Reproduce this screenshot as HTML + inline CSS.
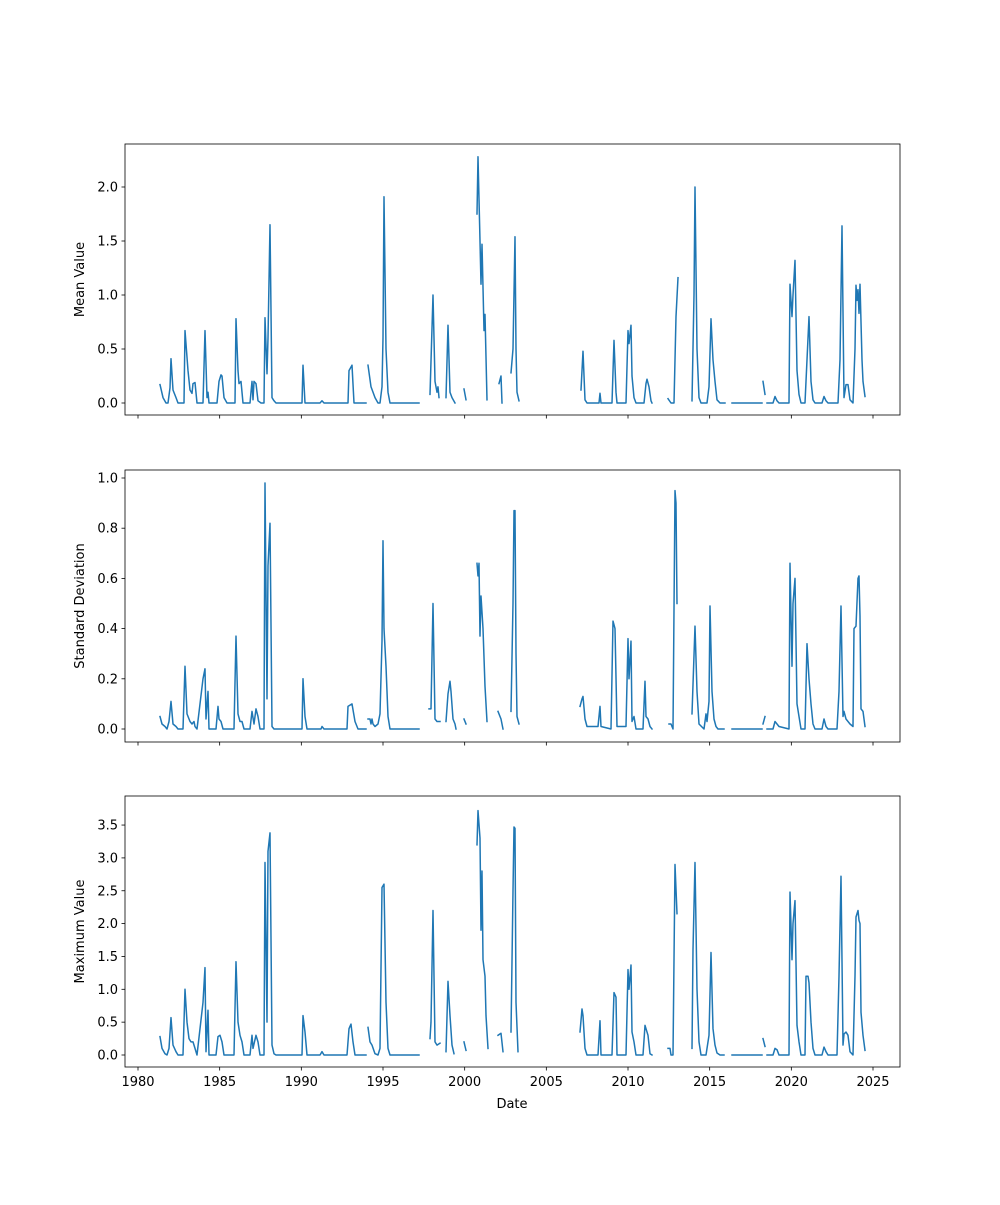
<!DOCTYPE html>
<html><head><meta charset="utf-8"><style>
html,body{margin:0;padding:0;background:#fff}
svg text{font-family:"DejaVu Sans","Liberation Sans",sans-serif;font-size:13px;fill:#000}
</style></head><body>
<svg id="s" width="1000" height="1200" xmlns="http://www.w3.org/2000/svg"></svg>
<script>
const panels=[
{top:144,bot:415,y0:403,scale:108,ticks:[0,0.5,1.0,1.5,2.0],fmt:1,label:"Mean Value",
data:`160 .17,163 .05,166 0,168 0,170 .14,171 .41,173 .12,176 .05,178 0,184 0,185 .67,188 .3,190 .12,192 .09,193 .18,195 .19,197 0,203 0,205 .67,207 .05,208 .1,209 0,217 0,219 .2,221 .26,222 .25,224 .05,227 0,235 0,236 .78,238 .3,239 .18,241 .2,243 0,250 0,252 .2,253 .03,254 .2,256 .18,258 .02,261 0,264 0,265 .79,267 .27,268 .6,270 1.65,272 .05,274 .02,276 0,302 0,303 .35,305 0,320 0,322 .02,324 0,348 0,349 .3,352 .35,354 0,366 0|368 .35,371 .15,375 .05,378 0,380 0,382 .15,383 .6,384 1.91,386 .5,388 .1,390 0,419 0|430 .08,433 1.0,435 .2,437 .1,438 .15,439 .05|446 .05,448 .72,450 .1,452 .05,455 0|464 .13,466 .03|477 1.75,478 2.28,480 1.5,481 1.1,482 1.47,484 .67,485 .82,487 .03|499 .18,501 .25,502 0|511 .28,513 .5,515 1.54,516 .5,517 .1,519 .02|581 .12,583 .48,585 .03,587 0,599 0,600 .09,601 0,612 0,614 .58,616 .1,617 0,626 0,628 .67,629 .55,631 .72,632 .25,634 .05,636 0,644 0,646 .18,647 .22,649 .15,651 .02,652 0|668 .04,671 0,674 0,676 .8,678 1.16|692 .02,694 1.0,695 2.0,697 .5,699 .05,701 0,707 0,709 .15,711 .78,713 .4,715 .2,717 .03,720 0,725 0|732 0,762 0|763 .2,765 .08|767 0,773 0,775 .06,777 .02,779 0,789 0,790 1.1,792 .8,793 1.0,795 1.32,797 .3,799 .08,801 0,805 0,807 .4,809 .8,811 .2,813 .03,815 0,822 0,824 .06,826 .02,828 0,838 0,840 .4,842 1.64,844 .05,846 .17,848 .17,850 .03,853 0,855 .5,856 1.09,857 .95,858 1.05,859 .83,860 1.1,862 .4,863 .2,865 .06`},
{top:470,bot:742,y0:729,scale:251,ticks:[0,0.2,0.4,0.6,0.8,1.0],fmt:1,label:"Standard Deviation",
data:`160 .05,162 .02,165 .01,167 0,169 .03,171 .11,173 .02,176 .01,178 0,183 0,185 .25,187 .06,190 .03,192 .02,194 .03,195 .01,197 0,203 .2,205 .24,206 .04,208 .15,209 0,216 0,218 .09,219 .04,221 .03,223 0,234 0,236 .37,238 .06,240 .03,242 .03,244 0,250 0,252 .07,254 .02,256 .08,258 .05,260 0,264 0,265 .98,267 .12,268 .65,270 .82,272 .01,274 0,302 0,303 .2,305 .05,307 0,321 0,322 .01,324 0,347 0,348 .09,352 .1,355 .03,358 0,366 0|368 .04,370 .04,371 .02,372 .04,373 .02,375 .01,378 .02,380 .06,382 .35,383 .75,384 .4,386 .25,388 .05,390 0,419 0|429 .08,431 .08,433 .5,435 .04,437 .03,440 .03|446 .03,448 .14,450 .19,451 .15,453 .04,455 .02,456 0|464 .04,466 .02|477 .66,478 .61,479 .66,480 .37,481 .53,483 .4,485 .17,487 .03|498 .07,501 .04,503 0|511 .07,513 .5,514 .87,515 .87,516 .3,517 .05,519 .02|580 .09,582 .12,583 .13,585 .04,587 .01,598 .01,600 .09,601 .01,611 0,613 .43,615 .4,617 .01,626 .01,628 .36,629 .2,631 .35,632 .03,634 .05,636 0,643 0,645 .19,646 .05,648 .04,650 .01,652 0|669 .02,671 .02,673 0,675 .95,676 .9,677 .5|692 .06,695 .41,697 .15,699 .02,704 0,706 .06,707 .03,709 .11,710 .49,712 .15,714 .04,716 .01,718 0,724 0|732 0,762 0|763 .02,765 .05|767 0,773 0,775 .03,777 .02,779 .01,789 0,790 .66,792 .25,793 .5,795 .6,797 .1,799 .05,801 0,805 0,807 .34,809 .2,811 .1,813 .02,815 0,822 0,824 .04,826 .01,828 0,837 0,839 .15,841 .49,843 .05,844 .07,846 .04,848 .03,850 .02,853 .01,854 .4,856 .41,858 .6,859 .61,860 .45,861 .08,863 .07,865 .01`},
{top:796,bot:1067,y0:1055,scale:65.7,ticks:[0,0.5,1.0,1.5,2.0,2.5,3.0,3.5],fmt:1,label:"Maximum Value",
data:`160 .28,162 .1,165 .02,167 0,169 .1,171 .57,173 .15,176 .05,178 0,183 0,185 1.0,187 .5,189 .25,191 .2,193 .2,195 .1,197 0,203 .8,205 1.33,206 .05,208 .68,209 0,216 0,218 .28,220 .3,222 .2,224 0,234 0,236 1.42,238 .5,240 .3,242 .2,244 0,250 0,252 .3,253 .1,256 .3,258 .2,260 0,264 0,265 2.93,267 .5,268 3.1,270 3.38,272 .15,274 .02,276 0,302 0,303 .6,305 .35,307 0,320 0,322 .05,324 0,347 0,349 .4,351 .47,353 .2,355 0,366 0|368 .42,370 .2,372 .15,375 .02,378 0,380 .1,382 2.55,384 2.6,386 .8,388 .1,390 0,419 0|430 .25,431 .5,433 2.2,435 .2,437 .15,440 .18|446 .05,448 1.12,450 .6,452 .15,454 .02|464 .2,466 .07|477 3.2,478 3.72,480 3.3,481 1.9,482 2.8,483 1.45,485 1.2,486 .6,488 .1|498 .3,501 .33,503 .05|511 .35,513 2.5,514 3.47,515 3.45,516 .8,518 .05|580 .35,582 .7,583 .6,585 .1,587 0,598 0,600 .52,601 0,612 0,614 .95,616 .88,617 0,626 0,628 1.3,629 1.0,631 1.37,632 .35,634 .2,636 0,643 0,645 .45,646 .4,648 .3,650 .02,652 0|668 .1,670 .1,671 0,673 0,675 2.9,677 2.15|692 .1,693 1.6,695 2.93,697 1.0,699 .2,701 0,706 0,708 .2,709 .3,711 1.56,713 .4,715 .15,717 .03,720 0,724 0|732 0,762 0|763 .25,765 .13|767 0,773 0,775 .1,777 .08,779 0,789 0,790 2.48,792 1.45,793 2.0,795 2.35,797 .45,799 .2,801 0,805 0,806 1.2,808 1.2,809 1.1,811 .5,813 .1,815 0,822 0,824 .12,826 .05,828 0,837 0,839 1.2,841 2.72,843 .15,844 .32,846 .35,848 .3,850 .05,853 0,855 1.2,856 2.1,858 2.2,859 2.05,860 2.0,861 .65,863 .3,865 .07`}
];
let h='';const L=125,R=900;
panels.forEach((p,i)=>{
 p.data.split('|').forEach(seg=>{
  const pts=seg.split(',').map(s=>{const [x,v]=s.trim().split(' ').map(Number);return x+','+(p.y0-v*p.scale).toFixed(1)}).join(' ');
  h+=`<polyline points="${pts}" fill="none" stroke="#1f77b4" stroke-width="1.5" stroke-linejoin="round" stroke-linecap="square"/>`;
 });
 h+=`<rect x="${L}" y="${p.top}" width="${R-L}" height="${p.bot-p.top}" fill="none" stroke="#000" stroke-width="0.8"/>`;
 p.ticks.forEach(t=>{const y=p.y0-t*p.scale;h+=`<line x1="${L-3.5}" x2="${L}" y1="${y}" y2="${y}" stroke="#000" stroke-width="0.8"/><text x="${L-7}" y="${y+4.5}" text-anchor="end">${t.toFixed(1)}</text>`;});
 for(let k=0;k<10;k++){const x=138+k*81.667;h+=`<line x1="${x}" x2="${x}" y1="${p.bot}" y2="${p.bot+3.5}" stroke="#000" stroke-width="0.8"/>`;if(i==2)h+=`<text x="${x}" y="${p.bot+19}" text-anchor="middle">${1980+5*k}</text>`;}
 const cy=(p.top+p.bot)/2;h+=`<text transform="translate(84,${cy}) rotate(-90)" text-anchor="middle">${p.label}</text>`;
});
h+=`<text x="512" y="1108" text-anchor="middle">Date</text>`;
document.getElementById('s').innerHTML=h;
</script>
</body></html>
